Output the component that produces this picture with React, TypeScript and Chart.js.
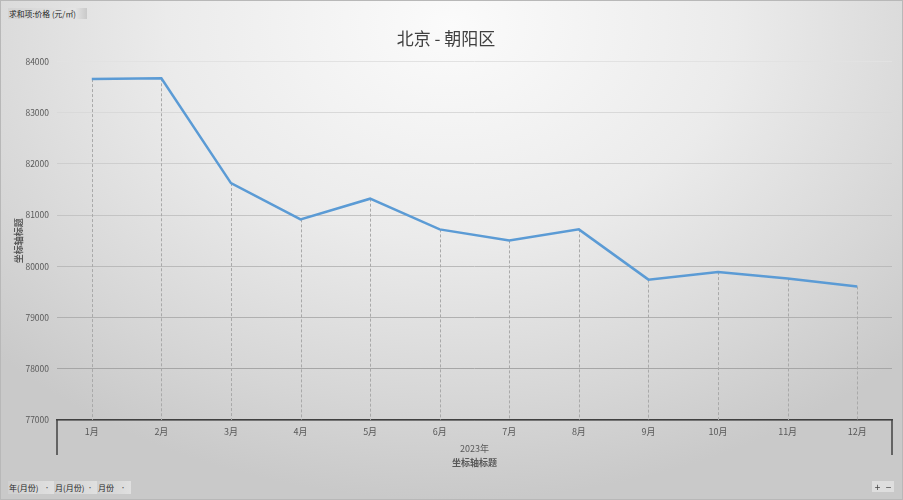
import React, { useEffect, useRef } from 'react';
import { Chart, registerables } from 'chart.js';

Chart.register(...registerables);

const FONT = '"Noto Sans CJK SC", "Noto Sans", sans-serif';
Chart.defaults.font.family = FONT;

const months = ['1月', '2月', '3月', '4月', '5月', '6月', '7月', '8月', '9月', '10月', '11月', '12月'];
const prices = [83655, 83670, 81625, 80916, 81320, 80721, 80506, 80721, 79740, 79887, 79763, 79607];
const yearLabel = '2023年';
const gridShades = ['#aaaaaa', '#a6a6a6', '#b0b0b0', '#bababa', '#c4c4c4', '#cecece', '#d9d9d9', '#e2e2e2'];
const fieldButtons = [
  { text: '年(月份)', left: 8, width: 46 },
  { text: '月(月份)', left: 54, width: 43 },
  { text: '月份', left: 97, width: 33 },
];

// dashed drop lines from each point to the axis, plus the group boundary ticks
const dropLines = {
  id: 'dropLines',
  beforeDatasetsDraw(chart: any) {
    const { ctx, chartArea } = chart;
    const meta = chart.getDatasetMeta(0);
    ctx.save();
    ctx.strokeStyle = '#a9a9a9';
    ctx.lineWidth = 1;
    ctx.setLineDash([3, 2]);
    meta.data.forEach((p: any) => {
      ctx.beginPath();
      ctx.moveTo(Math.round(p.x) + 0.5, p.y);
      ctx.lineTo(Math.round(p.x) + 0.5, chartArea.bottom);
      ctx.stroke();
    });
    ctx.restore();
  },
  afterDraw(chart: any) {
    const { ctx, chartArea } = chart;
    ctx.save();
    ctx.strokeStyle = '#404040';
    ctx.lineWidth = 1.5;
    [chartArea.left, chartArea.right].forEach((x: number) => {
      ctx.beginPath();
      ctx.moveTo(x, chartArea.bottom);
      ctx.lineTo(x, chartArea.bottom + 35);
      ctx.stroke();
    });
    ctx.fillStyle = '#595959';
    ctx.font = `9px ${FONT}`;
    ctx.textAlign = 'center';
    ctx.textBaseline = 'middle';
    ctx.fillText(yearLabel, (chartArea.left + chartArea.right) / 2, chartArea.bottom + 29);
    ctx.restore();
  },
};

const btn: React.CSSProperties = {
  position: 'absolute',
  fontFamily: FONT,
  fontSize: '8px',
  color: '#262626',
  lineHeight: '13px',
  whiteSpace: 'nowrap',
  overflow: 'hidden',
};

const App: React.FC = () => {
  const chartRef = useRef<HTMLCanvasElement | null>(null);
  const chartInstanceRef = useRef<any>(null);

  useEffect(() => {
    if (!chartRef.current) return;
    const ctx = chartRef.current.getContext('2d');
    if (!ctx) return;
    if (chartInstanceRef.current) chartInstanceRef.current.destroy();

    chartInstanceRef.current = new Chart(ctx, {
      type: 'line',
      data: {
        labels: months,
        datasets: [{
          label: '价格',
          data: prices,
          borderColor: '#5b9bd5',
          borderWidth: 2.5,
          pointRadius: 0,
          tension: 0,
          fill: false,
        }],
      },
      options: {
        responsive: false,
        animation: false,
        layout: { padding: { left: 0, right: 11, top: 0, bottom: 0 } },
        plugins: {
          legend: { display: false },
          tooltip: { enabled: false },
          title: {
            display: true,
            text: '北京 - 朝阳区',
            color: '#404040',
            font: { size: 17, weight: 'normal' },
            padding: { top: 28, bottom: 13 },
          },
        },
        scales: {
          x: {
            offset: true,
            afterFit: (scale: any) => { scale.height = 80; },
            grid: { display: false, drawTicks: false },
            border: { display: true, color: '#404040', width: 1.5 },
            ticks: { color: '#595959', font: { size: 9 }, padding: 6, maxRotation: 0, autoSkip: false },
            title: {
              display: true,
              text: '坐标轴标题',
              color: '#595959',
              font: { size: 9, weight: 'bold' },
              padding: { top: 0, bottom: 32 },
            },
          },
          y: {
            min: 77000,
            max: 84000,
            afterFit: (scale: any) => { scale.width = 57; },
            ticks: {
              stepSize: 1000,
              color: '#595959',
              font: { size: 8.5 },
              padding: 8,
              callback: (v: string | number) => String(v),
            },
            grid: {
              drawTicks: false,
              color: (c: any) => gridShades[c.index] || '#c0c0c0',
              lineWidth: 1,
            },
            border: { display: false },
            title: {
              display: true,
              text: '坐标轴标题',
              color: '#595959',
              font: { size: 9, weight: 'bold' },
              padding: { top: 13, bottom: 0 },
            },
          },
        },
      },
      plugins: [dropLines],
    });

    return () => {
      if (chartInstanceRef.current) {
        chartInstanceRef.current.destroy();
        chartInstanceRef.current = null;
      }
    };
  }, []);

  return (
    <div
      style={{
        position: 'absolute',
        left: 0,
        top: 0,
        width: 903,
        height: 500,
        overflow: 'hidden',
        background: 'radial-gradient(ellipse 70% 95% at 50% 5%, #fbfbfb 0%, #ebebeb 45%, #d6d6d6 80%, #c9c9c9 100%)',
      }}
    >
      <canvas ref={chartRef} width={903} height={500} style={{ position: 'absolute', left: 0, top: 0 }} />
      <div
        style={{
          ...btn,
          left: 8, top: 8, width: 78, height: 11, lineHeight: '11px', paddingLeft: 1, fontSize: '7.8px',
          background: 'linear-gradient(to right, #d3d3d3, #e4e4e4 85%, #c9c9c9)',
        }}
      >
        求和项:价格 (元/㎡)
      </div>
      {fieldButtons.map((b) => (
        <div
          key={b.text}
          style={{ ...btn, left: b.left, top: 481, width: b.width, height: 13, paddingLeft: 1, background: 'linear-gradient(to right, #d0d0d0, #e0e0e0)' }}
        >
          {b.text}
          <span style={{ position: 'absolute', right: 5, top: 0, fontSize: 6, color: '#555' }}>·</span>
        </div>
      ))}
      <div style={{ ...btn, left: 872, top: 481, width: 11, height: 11, textAlign: 'center', background: '#dedede', fontSize: 10, lineHeight: '11px', color: '#444' }}>+</div>
      <div style={{ ...btn, left: 883, top: 481, width: 11, height: 11, textAlign: 'center', background: '#dedede', fontSize: 10, lineHeight: '11px', color: '#444' }}>−</div>
      <div style={{ position: 'absolute', inset: 0, border: '1px solid #b8b8b8', pointerEvents: 'none' }} />
    </div>
  );
};

export default App;
